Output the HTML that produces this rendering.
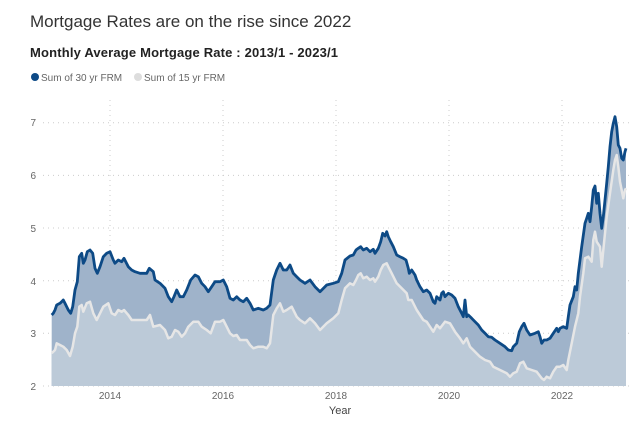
<!DOCTYPE html>
<html><head><meta charset="utf-8"><style>
body{margin:0;background:#fff;width:640px;height:418px;overflow:hidden;font-family:"Liberation Sans",sans-serif}
</style></head><body>
<svg id="s" width="640" height="418" xmlns="http://www.w3.org/2000/svg" font-family="Liberation Sans, sans-serif">
<text x="30" y="27" font-size="17" fill="#333">Mortgage Rates are on the rise since 2022</text>
<text x="30" y="57" font-size="13" font-weight="bold" fill="#222" textLength="308">Monthly Average Mortgage Rate : 2013/1 - 2023/1</text>
<circle cx="35" cy="77" r="4" fill="#0d4a86"/><text x="41" y="81" font-size="10" fill="#666">Sum of 30 yr FRM</text>
<circle cx="138" cy="77" r="4" fill="#ddd"/><text x="144" y="81" font-size="10" fill="#666">Sum of 15 yr FRM</text>
<g id="grid" stroke="#ccc" stroke-dasharray="1,4" stroke-width="1"></g>
<g font-size="10" fill="#666" text-anchor="end">
<text x="36" y="126">7</text><text x="36" y="179">6</text><text x="36" y="232">5</text><text x="36" y="285">4</text><text x="36" y="337">3</text><text x="36" y="390">2</text></g>
<g font-size="10" fill="#666" text-anchor="middle">
<text x="110" y="399">2014</text><text x="223" y="399">2016</text><text x="336" y="399">2018</text><text x="449" y="399">2020</text><text x="562" y="399">2022</text></g>
<text x="340" y="414" font-size="11" fill="#444" text-anchor="middle">Year</text>
<path id="a30" fill="#9fb3ca"/><path id="a15" fill="#bccad8"/>
<polyline id="l15" fill="none" stroke="#e6e6e6" stroke-width="2.5" stroke-linejoin="round"/>
<polyline id="l30" fill="none" stroke="#0d4a86" stroke-width="2.8" stroke-linejoin="round"/>
</svg>
<script>
var L30=[155,645,160,640,165,630,170,615,180,610,185,605,190,600,195,610,200,620,205,630,212,640,218,620,225,570,232,545,238,470,245,460,250,490,255,480,262,455,270,450,278,460,285,505,292,520,300,500,310,470,320,460,330,455,340,480,345,490,355,480,365,485,372,475,385,500,395,510,405,515,420,520,440,520,448,505,460,515,465,540,480,550,495,565,505,590,515,605,522,590,530,570,540,590,550,590,560,570,572,540,585,525,595,530,605,550,615,560,625,575,635,560,645,545,660,545,670,540,680,560,690,595,700,600,710,590,720,600,730,605,740,595,750,610,760,630,775,625,790,630,800,625,810,615,820,540,830,510,840,490,850,510,860,510,870,495,880,520,890,530,900,540,915,550,930,540,945,560];
var R30=[0,575,20,555,40,550,55,545,65,520,75,480,90,468,100,465,108,450,115,445,122,440,130,450,140,445,150,455,160,448,165,460,175,445,182,425,188,400,195,408,200,395,205,410,212,425,220,440,230,465,240,470,250,475,258,480,265,505,268,520,275,510,285,525,290,540,300,560,310,575,320,570,330,580,340,605,345,610,350,590,360,600,365,580,370,575,375,590,385,580,395,585,405,595,415,620,425,640,430,650,435,600,440,650,445,645,455,655,465,665,475,675,485,690,495,700,505,710,515,712,525,720,540,730,555,740,565,750,575,752,580,740,590,730,598,695,605,680,612,670,620,690,630,705,645,700,655,695,660,710,665,730,672,720,680,720,690,715,700,700,710,685,715,695,720,685,730,680,740,685,745,650,750,615,760,590,765,560,770,570,775,520,785,440,795,370,800,355,805,340,810,365,815,320,820,270,825,258,830,310,835,280,840,340,845,385,850,350,855,300,860,250,865,200,870,140,875,95,880,70,885,50,890,80,895,135,900,145,905,175,910,180,915,155,918,145];
var L15=[155,760,165,750,170,730,180,735,190,740,200,750,210,768,218,740,225,700,232,680,238,620,245,615,250,635,260,610,270,605,280,640,290,660,300,640,310,620,325,610,335,640,345,645,355,630,365,635,372,630,385,645,395,660,410,660,440,660,450,645,460,680,480,675,495,690,505,715,515,710,525,690,535,695,545,710,555,700,565,680,580,665,595,665,605,680,620,690,632,700,645,665,660,665,670,660,680,680,690,700,700,708,710,705,720,720,740,720,750,735,760,745,775,740,790,740,800,745,810,730,820,645,830,625,840,610,850,635,860,630,875,620,890,650,900,660,915,670,930,655,945,670];
var R15=[0,690,20,670,40,655,55,640,65,600,75,565,90,550,100,555,108,540,115,525,122,520,130,535,140,530,150,540,160,535,165,545,175,530,182,510,190,495,200,490,205,500,215,520,230,550,245,565,260,580,265,600,275,600,290,630,300,645,310,660,320,665,330,680,340,695,350,675,360,685,375,665,390,670,405,695,420,715,430,730,440,715,450,740,465,755,480,770,495,780,510,785,520,800,540,810,560,820,570,830,580,820,590,815,600,790,610,785,620,805,635,810,650,815,665,835,672,840,680,830,690,835,700,815,710,800,720,800,730,795,740,810,745,780,755,730,765,680,775,640,780,590,790,520,795,475,805,470,815,485,820,420,825,395,830,425,840,440,845,500,850,450,855,400,860,350,870,280,880,210,885,180,890,165,895,200,900,245,910,295,915,270,918,265];
function pts(L,R){var p=[];for(var i=0;i<L.length;i+=2)p.push([L[i]/3,100+L[i+1]/3]);for(i=0;i<R.length;i+=2)p.push([320+R[i]/3,100+R[i+1]/3]);return p;}
var p30=pts(L30,R30),p15=pts(L15,R15);
function pl(p){return p.map(function(q){return q[0].toFixed(1)+','+q[1].toFixed(1)}).join(' ');}
function ar(p){return 'M'+p[0][0]+',386 L'+pl(p)+' L'+p[p.length-1][0]+',386 Z';}
document.getElementById('l30').setAttribute('points',pl(p30));
document.getElementById('l15').setAttribute('points',pl(p15));
document.getElementById('a30').setAttribute('d',ar(p30));
document.getElementById('a15').setAttribute('d',ar(p15));
var g=document.getElementById('grid'),ns='http://www.w3.org/2000/svg';
[122.7,175.4,228,280.7,333.3,386].forEach(function(y){var l=document.createElementNS(ns,'line');l.setAttribute('x1',43);l.setAttribute('x2',632);l.setAttribute('y1',y);l.setAttribute('y2',y);g.appendChild(l);});
[110,223,336,449,562].forEach(function(x){var l=document.createElementNS(ns,'line');l.setAttribute('x1',x);l.setAttribute('x2',x);l.setAttribute('y1',100);l.setAttribute('y2',386);g.appendChild(l);});
</script>
</body></html>
